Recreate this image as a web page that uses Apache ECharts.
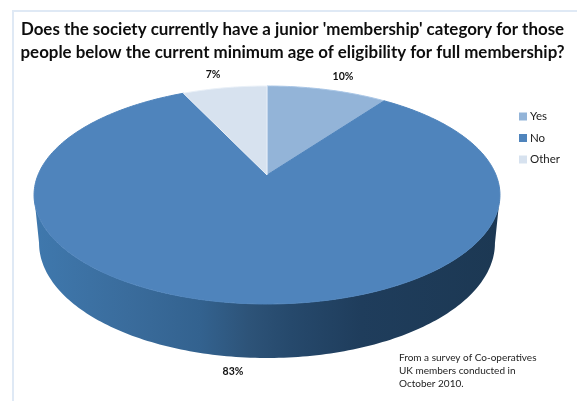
<!DOCTYPE html>
<html>
<head>
<meta charset="utf-8">
<style>html,body{margin:0;padding:0;background:#fff}#chart{width:577px;height:401px}</style>
<script src="https://cdn.jsdelivr.net/npm/echarts@6/dist/echarts.min.js"></script>
</head>
<body>
<div id="chart"></div>
<script>
const categories = ['Yes', 'No', 'Other'];
const shares = [10, 83, 7];
const fills = ['#93b4d8', '#4f84bc', '#d7e2ef'];
const edges = ['#a9c6e6', '#4f84bc', '#e9f0f8'];
const labelAnchors = [[343, 77], [233, 372], [213, 75]];
const titleText = "Does the society currently have a junior 'membership' category for those\npeople below the current minimum age of eligibility for full membership?";
const noteLines = ['From a survey of Co-operatives', 'UK members conducted in', 'October 2010.'];

// Perspective disc: the pie's centre sits above the centre of its rim ellipse.
const disc = { cx: 267, k: 0.1835, a: 229, b: -73.2, c: 175 };
const wall = { rimCx: 267, rimCy: 195, rimRx: 233, rimRy: 109, baseCy: 243, baseRx: 228, baseRy: 115 };
const total = shares.reduce((s, v) => s + v, 0);

function rimPoint(turn) {
  const t = turn * 2 * Math.PI, u = Math.sin(t), v = Math.cos(t), d = 1 + disc.k * v;
  return [disc.cx + disc.a * u / d, (disc.b * v + disc.c) / d];
}
function basePoint(turn) {
  const p = rimPoint(turn);
  return [
    wall.rimCx + (p[0] - wall.rimCx) * wall.baseRx / wall.rimRx,
    wall.baseCy + (p[1] - wall.rimCy) * wall.baseRy / wall.rimRy
  ];
}
const frontStart = Math.acos(-disc.k) / (2 * Math.PI);
const frontEnd = 1 - frontStart;

function arcTurns(from, to) {
  const steps = Math.max(2, Math.ceil((to - from) * 360));
  const turns = [];
  for (let i = 0; i <= steps; i++) turns.push(from + (to - from) * i / steps);
  return turns;
}

function sliceRenderer(index) {
  const before = shares.slice(0, index).reduce((s, v) => s + v, 0);
  return function (params, api) {
    const start = before / total, end = start + api.value(0) / total;
    const children = [];
    const from = Math.max(start, frontStart), to = Math.min(end, frontEnd);
    if (to > from) {
      const turns = arcTurns(from, to);
      children.push({
        type: 'polygon',
        shape: { points: turns.map(rimPoint).concat(turns.slice().reverse().map(basePoint)) },
        style: {
          fill: new echarts.graphic.LinearGradient(35, 0, 500, 0, [
            { offset: 0, color: '#3f78ad' },
            { offset: 0.2, color: '#3a6c9c' },
            { offset: 0.355, color: '#33628f' },
            { offset: 0.46, color: '#2d5378' },
            { offset: 0.55, color: '#26496c' },
            { offset: 0.7, color: '#1f3d5c' },
            { offset: 1, color: '#1c3853' }
          ], true)
        }
      });
    }
    children.push({
      type: 'polygon',
      shape: { points: [[disc.cx, disc.c]].concat(arcTurns(start, end).map(rimPoint)) },
      style: { fill: fills[index], stroke: edges[index], lineWidth: 1 }
    });
    const anchor = labelAnchors[index];
    children.push({
      type: 'text',
      style: {
        x: anchor[0], y: anchor[1], text: api.value(0) + '%',
        align: 'center', verticalAlign: 'middle',
        font: 'bold 10.5px Lato', fill: '#111'
      }
    });
    return { type: 'group', children };
  };
}

const chart = echarts.init(document.getElementById('chart'), null, { renderer: 'canvas' });
chart.setOption({
  animation: false,
  backgroundColor: '#ffffff',
  title: {
    text: titleText,
    left: 287.5, top: 13, textAlign: 'center',
    textStyle: { fontFamily: 'Lato', fontWeight: 'bold', fontSize: 16.9, lineHeight: 23, color: '#0d0d0d' }
  },
  legend: {
    orient: 'vertical', left: 519, top: 110, padding: 0, itemWidth: 4, itemHeight: 4, itemGap: 8.5,
    icon: 'rect', selectedMode: false,
    data: categories.map((name, i) => ({
      name,
      itemStyle: { color: fills[i], borderColor: fills[i], borderWidth: 4 }
    })),
    textStyle: { fontFamily: 'Lato', fontSize: 11.5, lineHeight: 13, color: '#1a1a1a' }
  },
  graphic: [
    { type: 'rect', silent: true, shape: { x: 13, y: 11, width: 600, height: 430 }, style: { fill: 'none', stroke: '#dfe9f5', lineWidth: 2 } },
    { type: 'text', silent: true, x: 399, y: 351.5, style: { text: noteLines.join('\n'), font: '10px Lato', lineHeight: 13, fill: '#222' } }
  ],
  series: categories.map((name, i) => ({
    type: 'custom',
    name,
    coordinateSystem: 'none',
    color: fills[i],
    data: [[shares[i]]],
    renderItem: sliceRenderer(i)
  }))
});
</script>
</body>
</html>
